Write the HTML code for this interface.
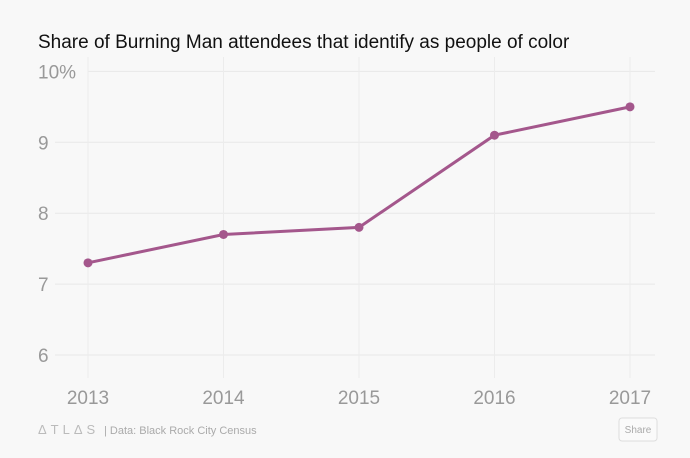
<!DOCTYPE html>
<html><head><meta charset="utf-8"><style>
body{margin:0;background:#f8f8f8;font-family:"Liberation Sans",sans-serif;}
</style></head><body>
<svg id="chart" width="690" height="453" xmlns="http://www.w3.org/2000/svg">
<rect width="690" height="453" fill="#f8f8f8"/>
<text x="38" y="48" font-size="19" fill="#111">Share of Burning Man attendees that identify as people of color</text>
<g id="grid"></g><g id="series"></g>
<text x="38" y="434" font-size="13" fill="#bbb" letter-spacing="4">ΔTLΔS</text>
<text x="104" y="434" font-size="11" fill="#aaa">|  Data:  Black Rock City Census</text>
<rect x="619" y="418" width="38" height="23" rx="3" fill="#fafafa" stroke="#ddd"/>
<text x="638" y="433" font-size="10" fill="#aaa" text-anchor="middle">Share</text>
</svg>
<script>
const years=["2013","2014","2015","2016","2017"];
const values=[7.3,7.7,7.8,9.1,9.5];
const yTicks=[6,7,8,9,10];
const yTickLabels=["6","7","8","9","10%"];
const NS="http://www.w3.org/2000/svg";
const x=i=>88+i*135.5;
const y=v=>355-(v-6)*70.9;
function mk(t,a,p){const e=document.createElementNS(NS,t);for(const k in a)e.setAttribute(k,a[k]);p.appendChild(e);return e;}
const g=document.getElementById('grid'),s=document.getElementById('series');
yTicks.forEach((v,i)=>{
 const l=mk('line',{x1:i==4?88:55,x2:655,y1:y(v),y2:y(v),stroke:'#e8e8e8'},g);
 
 
 const t=mk('text',{x:i==4?38:38,y:y(v)+7,'font-size':19,fill:'#999'},g);
 t.textContent=yTickLabels[i];
 
 
});
years.forEach((yr,i)=>{
 const l=mk('line',{x1:x(i),x2:x(i),y1:57,y2:378,stroke:'#ececec'},g);
 
 
 const t=mk('text',{x:x(i),y:404,'font-size':19,fill:'#999','text-anchor':'middle'},g);
 t.textContent=yr;
 
 
});
const p=mk('polyline',{points:values.map((v,i)=>x(i)+','+y(v)).join(' '),fill:'none',stroke:'#a4578c','stroke-width':3},s);


values.forEach((v,i)=>{
 const c=mk('circle',{cx:x(i),cy:y(v),r:4.5,fill:'#a4578c'},s);
 
 
});
</script>
</body></html>
